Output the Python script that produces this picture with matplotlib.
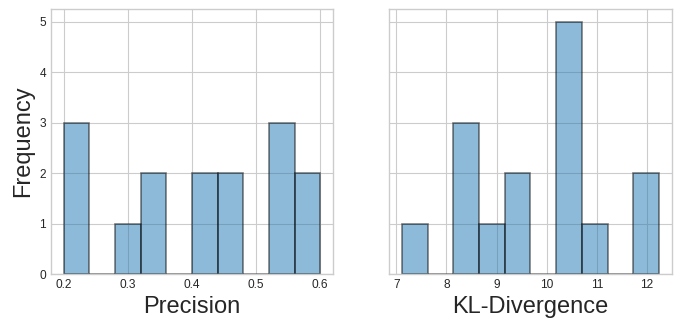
import numpy as np
import matplotlib
matplotlib.use("Agg")
import matplotlib.pyplot as plt

plt.style.use("seaborn-v0_8-whitegrid")
plt.rcParams['font.family'] = ['Liberation Sans', 'DejaVu Sans']

# Data (histogram counts)
precision_range = (0.2, 0.6)
precision_counts = [3, 0, 1, 2, 0, 2, 2, 0, 3, 2]
kl_range = (7.11, 12.24)
kl_counts = [1, 0, 3, 1, 2, 0, 5, 1, 0, 2]
xlabels = ["Precision", "KL-Divergence"]
ylabel = "Frequency"

fig = plt.figure(figsize=(6.81, 3.31), dpi=100)
ax1 = fig.add_axes([0.0749, 0.1722, 0.4141, 0.8006])
ax2 = fig.add_axes([0.5712, 0.1722, 0.4156, 0.8006], sharey=ax1)

for ax, rng, counts, lab in [(ax1, precision_range, precision_counts, xlabels[0]),
                             (ax2, kl_range, kl_counts, xlabels[1])]:
    nb = len(counts)
    edges = np.linspace(rng[0], rng[1], nb + 1)
    centers = (edges[:-1] + edges[1:]) / 2
    ax.hist(centers, bins=nb, range=rng, weights=counts,
            color='C0', alpha=0.5, edgecolor='black', linewidth=1.2)
    ax.set_xlabel(lab, fontsize=17)
    ax.tick_params(labelsize=8.6)

ax1.set_ylabel(ylabel, fontsize=17)
ax2.tick_params(labelleft=False)
ax1.set_xticks([0.2, 0.3, 0.4, 0.5, 0.6])
ax2.set_xticks([7, 8, 9, 10, 11, 12])

fig.savefig("out.png", dpi=100)
